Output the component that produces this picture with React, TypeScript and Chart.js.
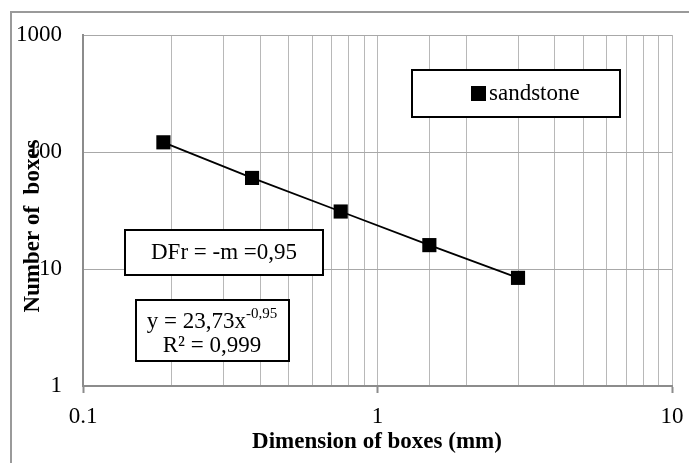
import React, { useEffect, useRef } from "react";
import { Chart, registerables } from "chart.js";

Chart.register(...registerables);

const seriesLabel = "sandstone";
const boxSizes = [0.1875, 0.375, 0.75, 1.5, 3];
const boxCounts = [121, 60, 31, 16, 8.4];
const xMajorTicks = [0.1, 1, 10];
const yTicks = [1, 10, 100, 1000];
const xTitle = "Dimension of boxes (mm)";
const yTitle = "Number of  boxes";
const dfrText = "DFr = -m =0,95";
const eqMain = "y = 23,73x";
const eqExp = "-0,95";
const r2Text = "R² = 0,999";

const FONT = '"Liberation Serif", "Times New Roman", Times, serif';

const overlayPlugin = {
  id: "overlay",
  afterDraw(chart: any) {
    const ctx = chart.ctx as CanvasRenderingContext2D;
    ctx.save();
    // outer chart border (cropped at right/bottom)
    ctx.strokeStyle = "#9a9a9a";
    ctx.lineWidth = 2;
    ctx.beginPath();
    ctx.moveTo(11, 470);
    ctx.lineTo(11, 12);
    ctx.lineTo(700, 12);
    ctx.stroke();

    // axis titles
    ctx.fillStyle = "#000";
    ctx.font = `bold 23px ${FONT}`;
    ctx.textAlign = "center";
    ctx.textBaseline = "middle";
    ctx.fillText(xTitle, 377, 442);
    ctx.save();
    ctx.translate(33, 226);
    ctx.rotate(-Math.PI / 2);
    ctx.fillText(yTitle, 0, 0);
    ctx.restore();

    // legend box
    ctx.fillStyle = "#fff";
    ctx.fillRect(412, 70, 208, 47);
    ctx.strokeStyle = "#000";
    ctx.lineWidth = 2;
    ctx.strokeRect(412, 70, 208, 47);
    ctx.fillStyle = "#000";
    ctx.fillRect(471, 86, 15, 15);
    ctx.font = `23px ${FONT}`;
    ctx.textAlign = "left";
    ctx.fillText(seriesLabel, 489, 94);

    // DFr box
    ctx.fillStyle = "#fff";
    ctx.fillRect(125, 230, 198, 45);
    ctx.strokeRect(125, 230, 198, 45);
    ctx.fillStyle = "#000";
    ctx.textAlign = "center";
    ctx.fillText(dfrText, 224, 253);

    // equation box
    ctx.fillStyle = "#fff";
    ctx.fillRect(136, 300, 153, 61);
    ctx.strokeRect(136, 300, 153, 61);
    ctx.fillStyle = "#000";
    ctx.font = `23px ${FONT}`;
    const w1 = ctx.measureText(eqMain).width;
    ctx.font = `15px ${FONT}`;
    const w2 = ctx.measureText(eqExp).width;
    const start = 212 - (w1 + w2) / 2;
    ctx.textAlign = "left";
    ctx.font = `23px ${FONT}`;
    ctx.fillText(eqMain, start, 322);
    ctx.font = `15px ${FONT}`;
    ctx.fillText(eqExp, start + w1, 314);
    ctx.font = `23px ${FONT}`;
    ctx.textAlign = "center";
    ctx.fillText(r2Text, 212, 346);
    ctx.restore();
  },
};

export default function App() {
  const ref = useRef<HTMLCanvasElement>(null);
  useEffect(() => {
    if (!ref.current) return;
    let chart: any = null;
    let cancelled = false;
    const make = () => {
      if (cancelled || !ref.current) return;
      chart = new Chart(ref.current, {
        type: "scatter",
        data: {
          datasets: [
            {
              label: seriesLabel,
              data: boxSizes.map((x, i) => ({ x, y: boxCounts[i] })),
              showLine: true,
              borderColor: "#000",
              borderWidth: 1.8,
              backgroundColor: "#000",
              pointStyle: "rect",
              pointRadius: 10,
              pointBorderWidth: 0,
              pointBackgroundColor: "#000",
            },
          ],
        },
        plugins: [overlayPlugin],
        options: {
          animation: false,
          responsive: false,
          devicePixelRatio: 1,
          layout: { autoPadding: false, padding: { top: 35, right: 17, left: 0, bottom: 0 } },
          plugins: {
            legend: { display: false },
            tooltip: { enabled: false },
          },
          scales: {
            x: {
              type: "logarithmic",
              min: 0.1,
              max: 10,
              afterFit: (s: any) => {
                s.height = 77;
                s.paddingLeft = 0;
                s.paddingRight = 0;
              },
              border: { color: "#8c8c8c", width: 2 },
              grid: {
                color: "#b8b8b8",
                lineWidth: 1,
                drawTicks: true,
                tickLength: 7,
                tickColor: (c: any) =>
                  c.tick && xMajorTicks.some((v) => Math.abs(v - c.tick.value) < 1e-9)
                    ? "#8c8c8c"
                    : "rgba(0,0,0,0)",
                tickWidth: 2,
              },
              ticks: {
                autoSkip: false,
                maxRotation: 0,
                padding: 10,
                color: "#000",
                font: { family: FONT, size: 23 },
                callback: (v: any) => {
                  const n = Number(v);
                  const m = xMajorTicks.find((t) => Math.abs(t - n) < 1e-9);
                  return m !== undefined ? String(m) : "";
                },
              },
            },
            y: {
              type: "logarithmic",
              min: 1,
              max: 1000,
              afterFit: (s: any) => {
                s.width = 83;
                s.paddingTop = 0;
                s.paddingBottom = 0;
              },
              afterBuildTicks: (s: any) => {
                s.ticks = yTicks.map((v) => ({ value: v }));
              },
              border: { color: "#8c8c8c", width: 2 },
              grid: { color: "#a8a8a8", lineWidth: 1, drawTicks: false },
              ticks: {
                padding: 21,
                color: "#000",
                font: { family: FONT, size: 23 },
                callback: (v: any) => String(Number(v)),
              },
            },
          },
        },
      });
    };
    const fonts: any = (document as any).fonts;
    if (fonts && fonts.load) {
      Promise.all([
        fonts.load('23px "Liberation Serif"'),
        fonts.load('bold 23px "Liberation Serif"'),
        fonts.load('15px "Liberation Serif"'),
      ])
        .catch(() => null)
        .then(make);
    } else {
      make();
    }
    return () => {
      cancelled = true;
      if (chart) chart.destroy();
    };
  }, []);
  return (
    <div style={{ position: "fixed", left: 0, top: 0, width: 689, height: 463, background: "#fff" }}>
      <canvas ref={ref} width={689} height={463} style={{ width: 689, height: 463 }} />
    </div>
  );
}
